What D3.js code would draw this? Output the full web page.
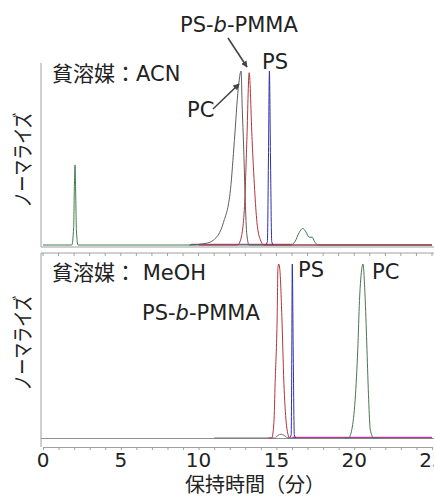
<!DOCTYPE html>
<html>
<head>
<meta charset="utf-8">
<script src="https://cdn.jsdelivr.net/npm/d3@7"></script>
<style>
  body { margin: 0; background: #fff; }
  svg { display: block; }
  text { font-family: "DejaVu Sans", "Noto Sans CJK JP", sans-serif; fill: #222; }
</style>
</head>
<body>
<svg id="chart" width="434" height="497"></svg>
<script>
//
// Data (retention time in min, normalised intensity)
//
var xTicks = [0, 5, 10, 15, 20, 25];

// upper panel: poor solvent ACN
var acnBlank = [[0,0],[1.85,0],[1.97,0.1],[2.02,0.35],[2.06,0.46],[2.1,0.3],[2.15,0.08],[2.25,0],
    [15.9,0],[16.2,0.02],[16.45,0.07],[16.7,0.095],[16.9,0.075],[17.1,0.045],[17.3,0.045],[17.45,0.02],[17.7,0],[25,0]];
var acnPC = [[9.4,0],[10.5,0.01],[11.2,0.05],[11.6,0.13],[12.05,0.32],[12.3,0.6],[12.55,0.9],[12.73,1],
    [12.8,0.8],[12.9,0.55],[13.0,0.25],[13.1,0.06],[13.25,0],[25,0]];
var acnBlock = [[10,0],[12.5,0],[12.7,0.03],[12.95,0.22],[13.1,0.6],[13.25,0.99],[13.44,0.6],[13.6,0.32],
    [13.75,0.13],[13.97,0.03],[14.2,0],[25,0]];
var acnPS = [[14.3,0],[14.42,0.02],[14.49,0.5],[14.55,1],[14.62,0.5],[14.7,0.02],[14.8,0]];
var acnBase = [[9.5,0.004],[16,0.004]];

// lower panel: poor solvent MeOH
var meohGray = [[11,0],[14.9,0],[15.1,0.015],[15.3,0.022],[15.5,0.015],[15.75,0],[25,0]];
var meohBlock = [[14.5,0],[14.7,0],[14.84,0.09],[14.92,0.32],[15.05,0.7],[15.1,0.98],[15.15,1],[15.22,0.97],
    [15.35,0.7],[15.48,0.32],[15.63,0.09],[15.82,0]];
var meohPS = [[15.85,0],[15.95,0.02],[15.99,0.5],[16.02,1],[16.08,0.5],[16.15,0.02],[16.25,0]];
var meohPC = [[19.4,0],[19.63,0],[19.85,0.05],[20.06,0.22],[20.23,0.51],[20.34,0.79],[20.5,0.98],[20.56,1],
    [20.71,0.79],[20.82,0.51],[20.93,0.22],[21.03,0.05],[21.25,0],[21.5,0]];
var meohBase = [[16,0.004],[25,0.004]];

//
// Layout
//
var svg = d3.select("#chart");
var frame = "#a0a0a0";

var x = d3.scaleLinear().domain([0, 25]).range([43, 432]);
var yTop = d3.scaleLinear().domain([0, 1]).range([245, 71]);
var yBot = d3.scaleLinear().domain([0, 1]).range([438, 264]);

var defs = svg.append("defs");
defs.append("marker")
    .attr("id", "head")
    .attr("viewBox", "0 0 10 10")
    .attr("refX", 9).attr("refY", 5)
    .attr("markerWidth", 4).attr("markerHeight", 4)
    .attr("orient", "auto")
  .append("path")
    .attr("d", "M0,0L10,5L0,10z")
    .attr("fill", "#444");

// frames
var g = svg.append("g").attr("stroke", frame).attr("fill", "none");
g.append("line").attr("x1", 41).attr("x2", 41).attr("y1", 63).attr("y2", 247);
g.append("line").attr("x1", 41).attr("x2", 434).attr("y1", 247).attr("y2", 247);
g.append("line").attr("x1", 41).attr("x2", 41).attr("y1", 253).attr("y2", 447);
g.append("line").attr("x1", 41).attr("x2", 434).attr("y1", 253).attr("y2", 253);
g.append("line").attr("x1", 41).attr("x2", 434).attr("y1", yBot(0) + 0.5).attr("y2", yBot(0) + 0.5)
    .attr("stroke", "#909090");

// minor ticks along panel borders
var minor = d3.range(0, 26);
g.selectAll("line.tt").data(minor).enter().append("line")
    .attr("x1", function (d) { return x(d); }).attr("x2", function (d) { return x(d); })
    .attr("y1", 253).attr("y2", 256);

// bottom axis
var axis = svg.append("g")
    .attr("transform", "translate(0,447)")
    .call(d3.axisBottom(x).tickValues(minor).tickSize(3).tickFormat(""));
axis.select(".domain").attr("stroke", frame);
axis.selectAll(".tick line").attr("stroke", frame);

svg.append("g").selectAll("text").data(xTicks).enter().append("text")
    .attr("x", function (d) { return x(d); })
    .attr("y", 467)
    .attr("text-anchor", "middle")
    .style("font-size", "20px")
    .text(function (d) { return d; });

// traces
function trace(data, y, color) {
    var line = d3.line()
        .x(function (d) { return x(d[0]); })
        .y(function (d) { return y(d[1]); })
        .curve(d3.curveMonotoneX);
    svg.append("path")
        .datum(data)
        .attr("d", line)
        .attr("fill", "none")
        .attr("stroke", color)
        .attr("stroke-width", 1);
}

trace(acnBase, yTop, "#b21c9c");
trace(acnBlank, yTop, "#3f7a50");
trace(acnPC, yTop, "#5e5e5e");
trace(acnBlock, yTop, "#b3343f");
trace(acnPS, yTop, "#3030b0");

trace(meohGray, yBot, "#707070");
trace(meohBase, yBot, "#b21c9c");
trace(meohPC, yBot, "#4b7555");
trace(meohBlock, yBot, "#b3343f");
trace(meohPS, yBot, "#3030b0");

// labels
function blockLabel(xp, yp) {
    var t = svg.append("text").attr("x", xp).attr("y", yp).style("font-size", "21px");
    t.append("tspan").text("PS-");
    t.append("tspan").style("font-style", "italic").text("b");
    t.append("tspan").text("-PMMA");
}
function label(txt, xp, yp) {
    svg.append("text").attr("x", xp).attr("y", yp).style("font-size", "21px").text(txt);
}

blockLabel(180, 32);
label("PS", 262, 69);
label("貧溶媒：ACN", 52, 81);
label("PC", 187, 117);

label("貧溶媒： MeOH", 52, 280);
blockLabel(142, 320);
label("PS", 298, 277);
label("PC", 372, 279);

// arrows
svg.append("line").attr("x1", 228).attr("y1", 38).attr("x2", 247).attr("y2", 67)
    .attr("stroke", "#444").attr("stroke-width", 1.6).attr("marker-end", "url(#head)");
svg.append("line").attr("x1", 213).attr("y1", 109).attr("x2", 239).attr("y2", 84)
    .attr("stroke", "#444").attr("stroke-width", 1.6).attr("marker-end", "url(#head)");

// axis titles
[160, 343].forEach(function (cy) {
    svg.append("text")
        .attr("transform", "translate(30," + cy + ") rotate(-90)")
        .attr("text-anchor", "middle")
        .attr("textLength", 95)
        .attr("lengthAdjust", "spacingAndGlyphs")
        .style("font-size", "21px")
        .text("ノーマライズ");
});

svg.append("text")
    .attr("x", 255).attr("y", 492)
    .attr("text-anchor", "middle")
    .style("font-size", "20px")
    .text("保持時間（分）");
</script>
</body>
</html>
